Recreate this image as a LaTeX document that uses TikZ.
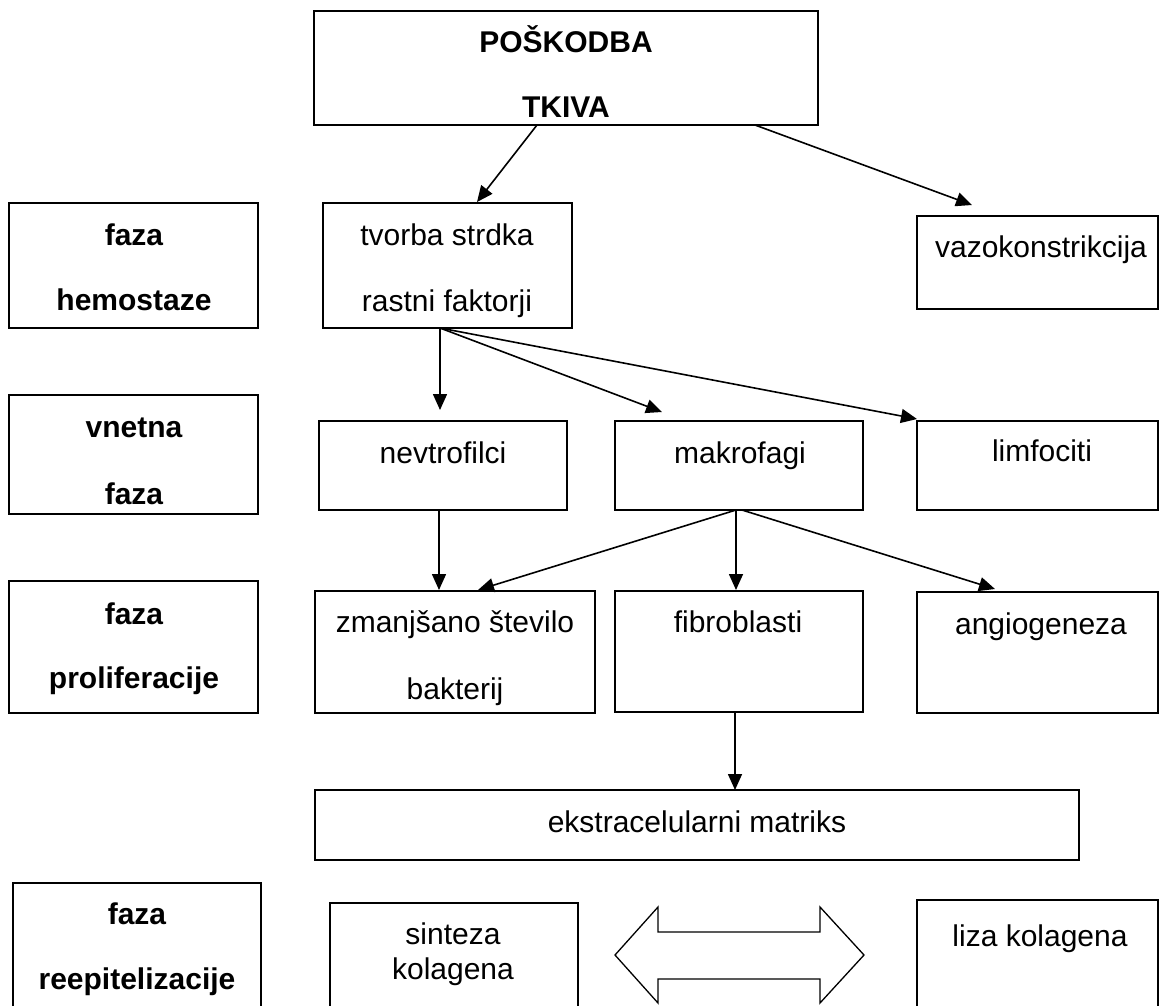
\documentclass[tikz,border=0pt]{standalone}
\usepackage{fontspec}
\setmainfont{Liberation Sans}
\usetikzlibrary{arrows.meta,fit,calc}
\tikzset{
  box/.style={draw, line width=1.6pt, inner sep=0pt, outer sep=0pt, rectangle},
  txt/.style={anchor=base, inner sep=0pt, font=\fontsize{30}{35}\selectfont},
  btxt/.style={txt, font=\fontsize{30}{35}\selectfont\bfseries},
  arr/.style={line width=1.6pt, -{Triangle[length=16pt,width=14pt]}},
}
\begin{document}
\begin{tikzpicture}[x=1pt,y=-1pt]
\useasboundingbox (0,0) rectangle (1160,1005);
\clip (0,0) rectangle (1160,1005);
% boxes
\node[box, fit={(314,11) (818,125)}] (pos) {};
\node[box, fit={(9,203) (258,328)}] (hem) {};
\node[box, fit={(323,203) (572,328)}] (tvor) {};
\node[box, fit={(917,216) (1158,309)}] (vazo) {};
\node[box, fit={(9,395) (258,514)}] (vnet) {};
\node[box, fit={(319,421) (567,510)}] (nevt) {};
\node[box, fit={(615,421) (863,510)}] (makr) {};
\node[box, fit={(917,421) (1158,510)}] (limf) {};
\node[box, fit={(9,581) (258,713)}] (prol) {};
\node[box, fit={(315,591) (595,713)}] (zman) {};
\node[box, fit={(615,591) (863,712)}] (fibr) {};
\node[box, fit={(917,592) (1158,713)}] (angi) {};
\node[box, fit={(315,790) (1079,860)}] (ekst) {};
\node[box, fit={(13,883) (261,1012)}] (reep) {};
\node[box, fit={(330,903) (578,1012)}] (sint) {};
\node[box, fit={(917,900) (1158,1012)}] (liza) {};
% texts
\node[btxt] (t1) at (566,52) {POŠKODBA};
\node[btxt] (t2) at (566,117) {TKIVA};
\node[btxt] (t3) at (134,245) {faza};
\node[btxt] (t4) at (134,310) {hemostaze};
\node[txt] (t5) at (447,245) {tvorba strdka};
\node[txt] (t6) at (447,311) {rastni faktorji};
\node[txt] (t7) at (1041,257) {vazokonstrikcija};
\node[btxt] (t8) at (134,437) {vnetna};
\node[btxt] (t9) at (134,504) {faza};
\node[txt] (t10) at (443,463) {nevtrofilci};
\node[txt] (t11) at (740,463) {makrofagi};
\node[txt] (t12) at (1042,461) {limfociti};
\node[btxt] (t13) at (134,624) {faza};
\node[btxt] (t14) at (134,688) {proliferacije};
\node[txt] (t15) at (455,632) {zmanjšano število};
\node[txt] (t16) at (455,699) {bakterij};
\node[txt] (t17) at (738,632) {fibroblasti};
\node[txt] (t18) at (1041,634) {angiogeneza};
\node[txt] (t19) at (697,832) {ekstracelularni matriks};
\node[btxt] (t20) at (137,924) {faza};
\node[btxt] (t21) at (137,989) {reepitelizacije};
\node[txt] (t22) at (453,944) {sinteza};
\node[txt] (t23) at (453,979) {kolagena};
\node[txt] (t24) at (1040,946) {liza kolagena};
% connectors
\draw[arr] ($(pos.south west)+(223,0)$) -- ($(tvor.north west)+(154,-1)$);
\draw[arr] ($(pos.south west)+(441,0)$) -- ($(vazo.north west)+(55,-11)$);
\draw[arr] ($(tvor.south west)+(117,0)$) -- ($(nevt.north west)+(121,-11)$);
\draw[arr] ($(tvor.south west)+(117,0)$) -- ($(makr.north west)+(47,-9)$);
\draw[arr] ($(tvor.south west)+(117,0)$) -- ($(limf.north west)+(0,-2)$);
\draw[arr] ($(nevt.south west)+(120,0)$) -- ($(zman.north west)+(124,-1)$);
\draw[arr] ($(makr.south west)+(121,0)$) -- ($(zman.north west)+(163,-1)$);
\draw[arr] ($(makr.south west)+(121,0)$) -- ($(fibr.north west)+(121,-1)$);
\draw[arr] ($(makr.south west)+(127,0)$) -- ($(angi.north west)+(78,-3)$);
\draw[arr] ($(fibr.south west)+(120,0)$) -- ($(ekst.north west)+(420,0)$);
% double block arrow
\draw[line width=1.3pt, line join=miter]
  (615,955) -- (658,907) -- (658,932) -- (820,932) -- (820,907) -- (864,955)
  -- (820,1003) -- (820,979) -- (658,979) -- (658,1003) -- cycle;
\end{tikzpicture}
\end{document}
